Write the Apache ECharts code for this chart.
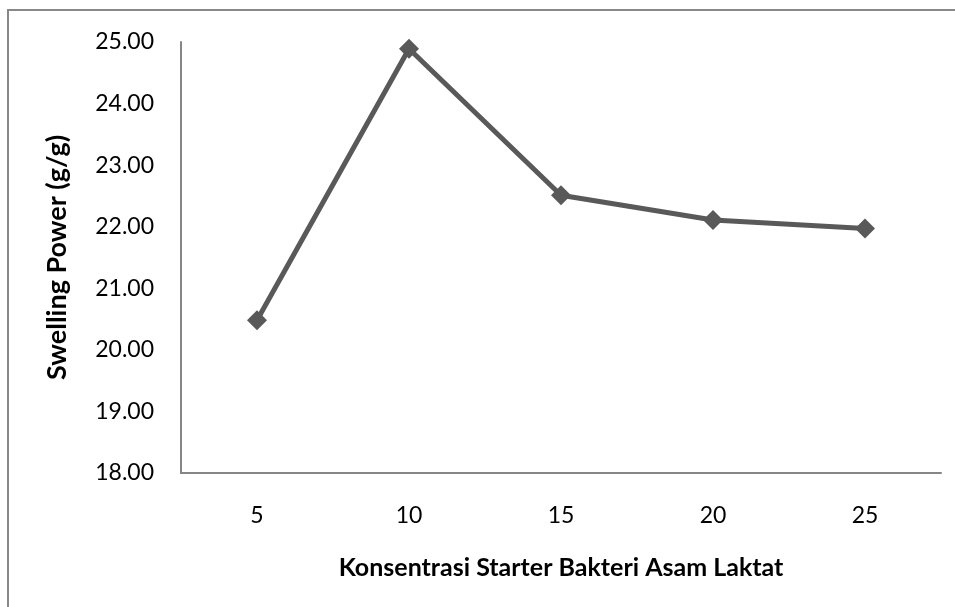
<!DOCTYPE html>
<html>
<head>
<meta charset="utf-8">
<script src="https://cdn.jsdelivr.net/npm/echarts@6/dist/echarts.min.js"></script>
<style>
    html, body { margin: 0; padding: 0; background: #fff; }
    #chart { width: 955px; height: 607px; }
</style>
</head>
<body>
<div id="chart"></div>
<script>
// Starter concentration (x) vs swelling power (g/g)
const concentrations = ['5', '10', '15', '20', '25'];
const swellingPower = [20.48, 24.89, 22.51, 22.11, 21.97];
const yTicks = { min: 18, max: 25, interval: 1 };

const FONT = 'Lato, "Open Sans", sans-serif';

const chart = echarts.init(document.getElementById('chart'));

chart.setOption({
    backgroundColor: '#fff',
    animation: false,
    // outer frame of the chart area (runs off the right and bottom edges)
    graphic: [
        {
            type: 'rect',
            shape: { x: 8, y: 10, width: 980, height: 640 },
            style: { fill: 'none', stroke: '#888', lineWidth: 2 },
            silent: true,
        },
    ],
    grid: { left: 181, right: 14, top: 42, bottom: 134 },
    xAxis: {
        type: 'category',
        data: concentrations,
        boundaryGap: true,
        name: 'Konsentrasi Starter Bakteri Asam Laktat',
        nameLocation: 'middle',
        nameGap: 82,
        nameTextStyle: { fontFamily: FONT, fontSize: 25, fontWeight: 'bold', color: '#000' },
        axisLine: { lineStyle: { color: '#868686', width: 2 } },
        axisTick: { show: false },
        axisLabel: { margin: 31, fontFamily: FONT, fontSize: 23, color: '#000' },
        splitLine: { show: false },
    },
    yAxis: {
        type: 'value',
        min: yTicks.min,
        max: yTicks.max,
        interval: yTicks.interval,
        name: 'Swelling Power (g/g)',
        nameLocation: 'middle',
        nameGap: 110,
        nameTextStyle: { fontFamily: FONT, fontSize: 27, fontWeight: 'bold', color: '#000' },
        axisLine: { show: true, lineStyle: { color: '#868686', width: 2 } },
        axisTick: { show: false },
        axisLabel: {
            margin: 27,
            fontFamily: FONT,
            fontSize: 23,
            color: '#000',
            formatter: (v) => v.toFixed(2),
        },
        splitLine: { show: false },
    },
    series: [
        {
            type: 'line',
            data: swellingPower,
            symbol: 'diamond',
            symbolSize: 20,
            lineStyle: { color: '#595959', width: 5 },
            itemStyle: { color: '#595959' },
        },
    ],
});
</script>
</body>
</html>
